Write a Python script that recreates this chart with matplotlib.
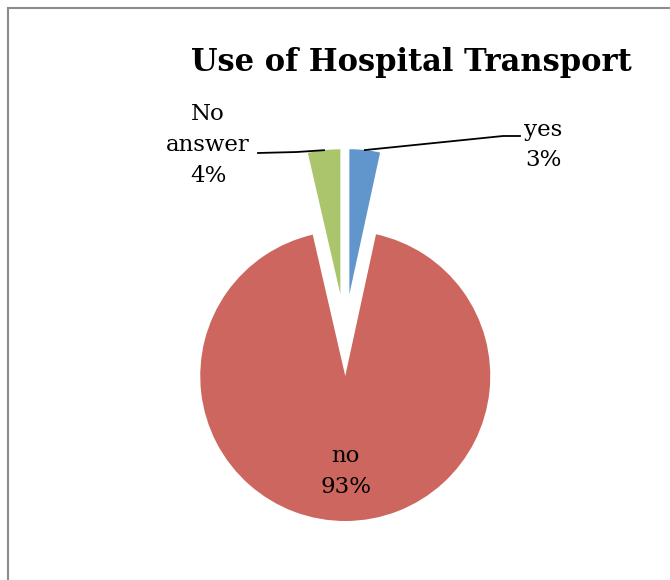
import numpy as np
import matplotlib
matplotlib.use('Agg')
import matplotlib.pyplot as plt
from matplotlib.patches import Rectangle

# slice data (labels show rounded percent)
categories = ['yes', 'no', 'No\nanswer']
values = [3.4, 93.0, 3.6]
colors = ['#6096cb', '#cd665e', '#abc56d']

plt.rcParams['font.family'] = ['DejaVu Serif']

fig = plt.figure(figsize=(6.7, 5.8), dpi=100)
ax = fig.add_axes([0, 0, 1, 1])

cx, cy, r = 345, 245, 145
# explode is in data units here (pixels)
wedges, texts = ax.pie(values, colors=colors, startangle=90, counterclock=False,
                       explode=[41] * 3, center=(cx, cy), radius=r,
                       labels=None, wedgeprops={'linewidth': 0})

ax.set_xlim(0, 670)
ax.set_ylim(0, 580)
ax.set_aspect('equal')
ax.axis('off')

pct = [f'{v:.0f}%' for v in values]

# label inside the big slice
w = wedges[1]
mid = np.deg2rad((w.theta1 + w.theta2) / 2)
wx, wy = w.center
ax.text(wx + 0.66 * r * np.cos(mid), wy + 0.66 * r * np.sin(mid),
        categories[1] + '\n' + pct[1], ha='center', va='center',
        fontsize=16.5, linespacing=1.5)


def outer_point(w):
    mid = np.deg2rad((w.theta1 + w.theta2) / 2)
    x0, y0 = w.center
    return x0 + w.r * np.cos(mid), y0 + w.r * np.sin(mid)


# outside labels with leader lines
# yes
px, py = outer_point(wedges[0])
ax.plot([px, 503, 520], [py, 444, 444], color='black', lw=1.3)
ax.text(543, 435, categories[0] + '\n' + pct[0], ha='center', va='center',
        fontsize=16.5, linespacing=1.5)
# No answer
px, py = outer_point(wedges[2])
ax.plot([px, 297, 258], [py, 428, 427], color='black', lw=1.3)
ax.text(208, 435, categories[2] + '\n' + pct[2], ha='center', va='center',
        fontsize=16.5, linespacing=1.5)

fig.text(411 / 670, 1 - 62 / 580, 'Use of Hospital Transport', ha='center',
         va='center', fontsize=22, fontweight='bold')

# chart border, right and bottom sides lie outside the picture
fig.patches.append(Rectangle((8 / 670, -0.1), 1.1, 1.1 - 8 / 580, fill=False,
                             edgecolor='#8c8c8c', linewidth=1.5,
                             transform=fig.transFigure, figure=fig))

fig.savefig('out.png', dpi=100)
